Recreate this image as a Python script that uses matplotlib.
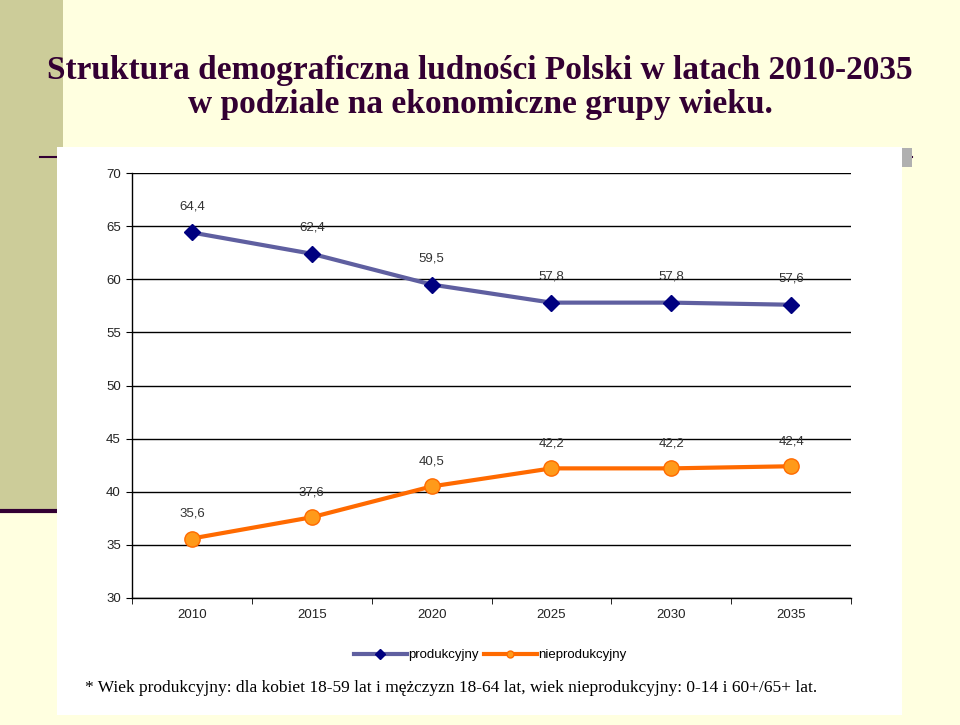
import matplotlib
matplotlib.use('agg')
from matplotlib import pyplot as plt
from matplotlib.patches import Rectangle
from matplotlib.lines import Line2D

years = ['2010', '2015', '2020', '2025', '2030', '2035']
produkcyjny = [64.4, 62.4, 59.5, 57.8, 57.8, 57.6]
nieprodukcyjny = [35.6, 37.6, 40.5, 42.2, 42.2, 42.4]
yticks = [30, 35, 40, 45, 50, 55, 60, 65, 70]

W, H = 960, 725
fig = plt.figure(figsize=(9.6, 7.25), dpi=100)
fig.patch.set_facecolor('#FFFFE0')

def px(x0, y0, x1, y1):
    # pixel box -> figure fraction rect
    return (x0 / W, 1 - y1 / H, (x1 - x0) / W, (y1 - y0) / H)

# slide decoration
fig.add_artist(Rectangle(px(0, 0, 63, 510)[:2], 63 / W, 510 / H, transform=fig.transFigure,
                         facecolor='#CCCC99', edgecolor='none', zorder=0))
fig.add_artist(Line2D([0, 57 / W], [1 - 511 / H] * 2, transform=fig.transFigure,
                      color='#330033', lw=3, zorder=1))
fig.add_artist(Line2D([40 / W, 912 / W], [1 - 157 / H] * 2, transform=fig.transFigure,
                      color='#330033', lw=1.5, zorder=1))
r = px(902, 148, 912, 167)
fig.add_artist(Rectangle(r[:2], r[2], r[3], transform=fig.transFigure,
                         facecolor='#B0B0B0', edgecolor='none', zorder=1))
r = px(57, 147, 902, 715)
fig.add_artist(Rectangle(r[:2], r[2], r[3], transform=fig.transFigure,
                         facecolor='white', edgecolor='none', zorder=2))

fig.text(0.5, 1 - 70 / H, 'Struktura demograficzna ludności Polski w latach 2010-2035',
         ha='center', va='center', family='Liberation Serif', weight='bold',
         fontsize=24, color='#330033')
fig.text(0.5, 1 - 105 / H, 'w podziale na ekonomiczne grupy wieku.',
         ha='center', va='center', family='Liberation Serif', weight='bold',
         fontsize=24, color='#330033')

ax = fig.add_axes(px(132, 173, 851, 598))
ax.set_zorder(3)
ax.patch.set_alpha(0)
x = list(range(len(years)))

ax.plot(x, produkcyjny, color='#5F5FA0', lw=3, marker='D', ms=8,
        mfc='#000080', mec='#000080', label='produkcyjny', zorder=4)
ax.plot(x, nieprodukcyjny, color='#FF6A00', lw=3, marker='o', ms=11,
        mfc='#FF9A1A', mec='#FF6A00', mew=1, label='nieprodukcyjny', zorder=4)

for xi, v in zip(x, produkcyjny):
    ax.annotate(f'{v:.1f}'.replace('.', ','), (xi, v), xytext=(0, 19), textcoords='offset points',
                ha='center', va='center', fontsize=9.5, color='#333333', family='Liberation Sans')
for xi, v in zip(x, nieprodukcyjny):
    ax.annotate(f'{v:.1f}'.replace('.', ','), (xi, v), xytext=(0, 18), textcoords='offset points',
                ha='center', va='center', fontsize=9.5, color='#333333', family='Liberation Sans')

ax.set_xlim(-0.5, len(years) - 0.5)
ax.set_ylim(30, 70)
ax.set_yticks(yticks)
ax.set_yticklabels([str(t) for t in yticks], family='Liberation Sans', fontsize=9.5, color='#222222')
ax.set_xticks(x)
ax.set_xticklabels(years, family='Liberation Sans', fontsize=9.5, color='#222222')
ax.set_xticks([i - 0.5 for i in range(len(years) + 1)], minor=True)
ax.tick_params(axis='x', which='major', length=0, pad=8)
ax.tick_params(axis='x', which='minor', length=4, direction='out')
ax.tick_params(axis='y', length=4, direction='out', pad=4)
ax.grid(axis='y', color='black', lw=1)
for s in ['top', 'right']:
    ax.spines[s].set_visible(False)
for s in ['left', 'bottom']:
    ax.spines[s].set_linewidth(1)

leg = ax.legend(loc='center', bbox_to_anchor=(490 / W, 1 - 655 / H), bbox_transform=fig.transFigure,
                ncol=2, frameon=False, handlelength=4, handletextpad=0.1,
                columnspacing=0.4, prop={'family': 'Liberation Sans', 'size': 9.5})
for h in leg.legend_handles:
    h.set_markersize(5)

fig.text(85 / W, 1 - 688 / H,
         '* Wiek produkcyjny: dla kobiet 18-59 lat i mężczyzn 18-64 lat, wiek nieprodukcyjny: 0-14 i 60+/65+ lat.',
         ha='left', va='center', family='Liberation Serif', fontsize=12.5, color='black', zorder=5)

fig.savefig('out.png', dpi=100, facecolor=fig.get_facecolor())
